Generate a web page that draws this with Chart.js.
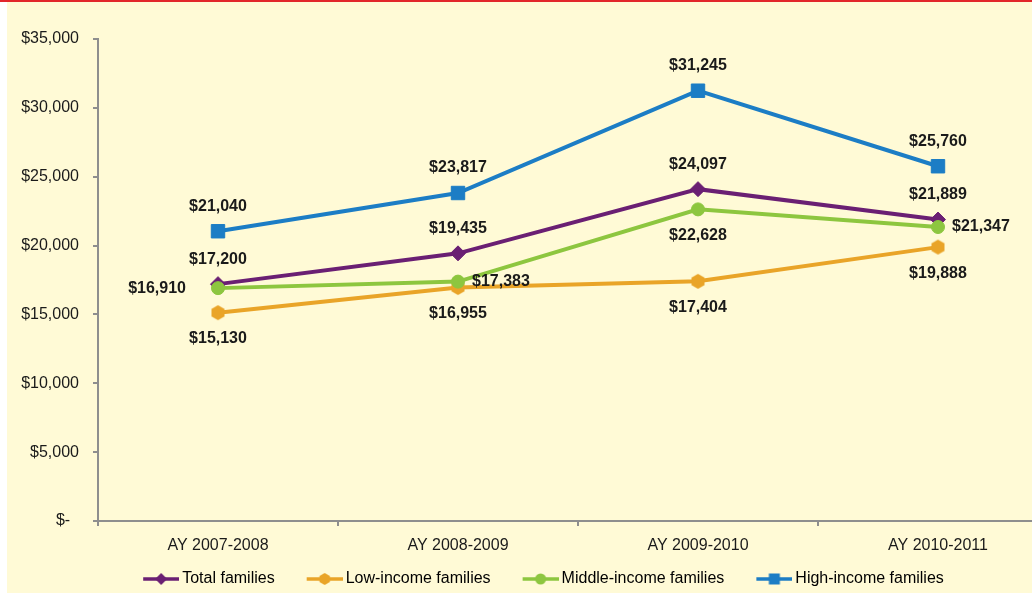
<!DOCTYPE html>
<html>
<head>
<meta charset="utf-8">
<script src="https://cdn.jsdelivr.net/npm/chart.js@4/dist/chart.umd.min.js"></script>
<style>
  html, body { margin: 0; padding: 0; background: #fff; overflow: hidden; width: 1032px; height: 593px; }
  #topline { position: absolute; left: 0; top: 0; width: 1032px; height: 2px; background: #e2262b; }
  #wrap { position: absolute; left: 7px; top: 2px; width: 1070px; height: 595px; background: #fffad6; }
</style>
</head>
<body>
<div id="topline"></div>
<div id="wrap"><canvas id="chart" width="1070" height="595"></canvas></div>
<script>
const years = ["AY 2007-2008", "AY 2008-2009", "AY 2009-2010", "AY 2010-2011"];
const totalFamilies = [17200, 19435, 24097, 21889];
const lowIncome = [15130, 16955, 17404, 19888];
const middleIncome = [16910, 17383, 22628, 21347];
const highIncome = [21040, 23817, 31245, 25760];

const FONT = '"Liberation Sans", Arial, sans-serif';
const TEXT = "#1a1a1a";
const AXIS = "#8e8e8e";

function hexPath(ctx, cx, cy, r) {
  for (let i = 0; i < 6; i++) {
    const a = -Math.PI / 2 + i * Math.PI / 3;
    ctx.lineTo(cx + r * Math.cos(a), cy + r * Math.sin(a));
  }
}

function hexagon(color, r) {
  const c = document.createElement("canvas");
  c.width = c.height = Math.ceil(2 * r + 2);
  const ctx = c.getContext("2d");
  ctx.fillStyle = color;
  ctx.beginPath();
  hexPath(ctx, c.width / 2, c.height / 2, r);
  ctx.closePath();
  ctx.fill();
  return c;
}

// line + marker picture for the legend; the blank strip on the left
// gives the space between legend entries
const LEAD = 27;
function legendIcon(color, shape, r) {
  const c = document.createElement("canvas");
  c.width = 36 + LEAD;
  c.height = 16;
  const ctx = c.getContext("2d");
  const cx = LEAD + 18;
  ctx.strokeStyle = color;
  ctx.fillStyle = color;
  ctx.lineWidth = 3.5;
  ctx.beginPath();
  ctx.moveTo(LEAD, 8);
  ctx.lineTo(LEAD + 36, 8);
  ctx.stroke();
  ctx.beginPath();
  if (shape === "diamond") {
    ctx.moveTo(cx, 8 - r); ctx.lineTo(cx + r, 8); ctx.lineTo(cx, 8 + r); ctx.lineTo(cx - r, 8);
  } else if (shape === "circle") {
    ctx.arc(cx, 8, r, 0, Math.PI * 2);
  } else if (shape === "square") {
    ctx.rect(cx - r, 8 - r, 2 * r, 2 * r);
  } else {
    hexPath(ctx, cx, 8, r);
  }
  ctx.closePath();
  ctx.fill();
  return c;
}

const colors = { total: "#6a1f73", low: "#e9a428", middle: "#8dc63f", high: "#1c7dc5" };

function series(label, data, color, style, radius, labelPos, order, icon) {
  return {
    label, data, order, labelPos, legendIcon: icon,
    borderColor: color, backgroundColor: color,
    borderWidth: 4, tension: 0,
    pointStyle: style, pointRadius: radius, pointHoverRadius: radius,
    pointBackgroundColor: color, pointBorderColor: color, pointBorderWidth: 1
  };
}

const valueLabels = {
  id: "valueLabels",
  afterDatasetsDraw(chart) {
    const ctx = chart.ctx;
    ctx.save();
    ctx.font = "bold 16px " + FONT;
    ctx.fillStyle = TEXT;
    ctx.textBaseline = "middle";
    chart.data.datasets.forEach((ds, i) => {
      chart.getDatasetMeta(i).data.forEach((pt, j) => {
        const pos = ds.labelPos[j];
        const text = "$" + ds.data[j].toLocaleString("en-US");
        let x = pt.x, y = pt.y;
        ctx.textAlign = "center";
        if (pos === "top") y -= 25;
        else if (pos === "bottom") y += 26;
        else if (pos === "left") { x -= 32; ctx.textAlign = "right"; }
        else { x += 14; ctx.textAlign = "left"; }
        ctx.fillText(text, x, y);
      });
    });
    ctx.restore();
  }
};

new Chart(document.getElementById("chart"), {
  type: "line",
  data: {
    labels: years,
    datasets: [
      series("Total families", totalFamilies, colors.total, "rectRot", 7.5,
        ["top", "top", "top", "top"], 4, legendIcon(colors.total, "diamond", 6)),
      series("Low-income families", lowIncome, colors.low, hexagon(colors.low, 7.5), 7,
        ["bottom", "bottom", "bottom", "bottom"], 3, legendIcon(colors.low, "hex", 6)),
      series("Middle-income families", middleIncome, colors.middle, "circle", 6.5,
        ["left", "right", "bottom", "right"], 2, legendIcon(colors.middle, "circle", 5.5)),
      series("High-income families", highIncome, colors.high, "rect", 9.5,
        ["top", "top", "top", "top"], 1, legendIcon(colors.high, "square", 5.5))
    ]
  },
  options: {
    responsive: false,
    animation: false,
    layout: { padding: { top: 37, left: 0, right: 19, bottom: 0 } },
    plugins: {
      tooltip: { enabled: false },
      legend: {
        position: "bottom",
        labels: {
          usePointStyle: true,
          pointStyleWidth: 53,
          boxHeight: 16,
          padding: 10,
          color: TEXT,
          font: { size: 16, family: FONT },
          generateLabels: chart => chart.data.datasets.map((ds, i) => ({
            text: ds.label,
            pointStyle: ds.legendIcon,
            fillStyle: ds.borderColor,
            strokeStyle: ds.borderColor,
            lineWidth: 0,
            hidden: false,
            datasetIndex: i
          }))
        }
      }
    },
    scales: {
      x: {
        offset: true,
        afterFit: s => { s.height = 40; },
        grid: { offset: true, drawOnChartArea: false, tickLength: 5, color: AXIS, lineWidth: 2 },
        border: { color: AXIS, width: 2 },
        ticks: { color: TEXT, padding: 10, maxRotation: 0, font: { size: 16, family: FONT } }
      },
      y: {
        min: 0,
        max: 35000,
        afterFit: s => { s.width = 91; },
        grid: { drawOnChartArea: false, tickLength: 5, color: AXIS, lineWidth: 2 },
        border: { color: AXIS, width: 2 },
        ticks: {
          stepSize: 5000,
          padding: 14,
          color: TEXT,
          font: { size: 16, family: FONT },
          callback: v => v === 0 ? "$-  " : "$" + v.toLocaleString("en-US")
        }
      }
    }
  },
  plugins: [valueLabels]
});
</script>
</body>
</html>
